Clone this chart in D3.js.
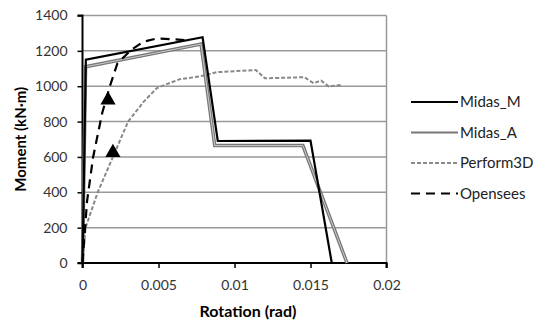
<!DOCTYPE html>
<html>
<head>
<meta charset="utf-8">
<script src="https://cdn.jsdelivr.net/npm/d3@7"></script>
<style>
  body { margin: 0; background: #fff; }
  text { font-family: Lato, "Open Sans", sans-serif; }
</style>
</head>
<body>
<div id="chart"></div>
<script>
// values
const xTicks = [0, 0.005, 0.01, 0.015, 0.02];
const xTickLabels = ["0", "0.005", "0.01", "0.015", "0.02"];
const yTicks = [0, 200, 400, 600, 800, 1000, 1200, 1400];

const midasM = [[0, 0], [0.00022, 1150], [0.0079, 1277], [0.0089, 690], [0.0150, 692], [0.0164, 0]];
const midasA = [[0, 0], [0.0002, 1110], [0.0078, 1238], [0.0087, 664], [0.0145, 664], [0.0174, 0]];
const perform3D = [[0, 0], [0.0002, 200], [0.0010, 400], [0.0020, 600], [0.0030, 800], [0.0040, 910],
  [0.0049, 990], [0.0064, 1040], [0.0077, 1055], [0.0088, 1079], [0.0114, 1092],
  [0.0120, 1045], [0.0146, 1051], [0.0152, 1017], [0.0157, 1032], [0.0162, 998], [0.0170, 1007]];
const opensees = [[0, 0], [0.0003, 350], [0.0007, 600], [0.0013, 850], [0.0018, 1000], [0.0023, 1130],
  [0.0032, 1205], [0.0040, 1252], [0.0049, 1270], [0.0063, 1264], [0.0070, 1258]];
const markers = [[0.00168, 922], [0.0020, 625]];

const legendItems = [
  { name: "Midas_M", key: "m" },
  { name: "Midas_A", key: "a" },
  { name: "Perform3D", key: "p" },
  { name: "Opensees", key: "o" },
];

const W = 541, H = 323;
const margin = { left: 82.5, top: 15.5, right: 154.5, bottom: 60 };

const svg = d3.select("#chart").append("svg").attr("width", W).attr("height", H);

const x = d3.scaleLinear().domain([0, 0.02]).range([margin.left, W - margin.right]);
const y = d3.scaleLinear().domain([0, 1400]).range([H - margin.bottom, margin.top]);

// grid
svg.append("g")
  .selectAll("line")
  .data(yTicks.filter(d => d > 0))
  .join("line")
  .attr("x1", x(0)).attr("x2", x(0.02))
  .attr("y1", d => y(d)).attr("y2", d => y(d))
  .attr("stroke", "#999").attr("stroke-width", 1.5);

svg.append("line")
  .attr("x1", x(0.02)).attr("x2", x(0.02))
  .attr("y1", y(0)).attr("y2", y(1400))
  .attr("stroke", "#999").attr("stroke-width", 1.5);

// axes
const yAxis = svg.append("g")
  .attr("transform", `translate(${x(0)},0)`)
  .call(d3.axisLeft(y).tickValues(yTicks).tickSize(5).tickPadding(10).tickFormat(d3.format("d")));
const xAxis = svg.append("g")
  .attr("transform", `translate(0,${y(0)})`)
  .call(d3.axisBottom(x).tickValues(xTicks).tickSize(5).tickPadding(12).tickFormat((d, i) => xTickLabels[i]));

[yAxis, xAxis].forEach(g => {
  g.select(".domain").attr("stroke", "#000").attr("stroke-width", 2);
  g.selectAll(".tick line").attr("stroke", "#000").attr("stroke-width", 1.5);
  g.selectAll(".tick text").attr("fill", "#333").style("font-size", "14px")
    .style("font-family", "Lato, 'Open Sans', sans-serif");
});
xAxis.select(".domain").attr("d", `M${x(0)},5V0H${x(0.02)}V5`);
yAxis.select(".domain").attr("d", `M-5,${y(0)}H0V${y(1400)}H-5`);

const line = d3.line().x(d => x(d[0])).y(d => y(d[1]));

const plot = svg.append("g");

plot.append("path").datum(perform3D).attr("d", line)
  .attr("fill", "none").attr("stroke", "#888").attr("stroke-width", 2)
  .attr("stroke-dasharray", "4,2");

plot.append("path").datum(midasA).attr("d", line)
  .attr("fill", "none").attr("stroke", "#777").attr("stroke-width", 3.5);
plot.append("path").datum(midasA).attr("d", line)
  .attr("fill", "none").attr("stroke", "#ccc").attr("stroke-width", 1);

plot.append("path").datum(midasM).attr("d", line)
  .attr("fill", "none").attr("stroke", "#000").attr("stroke-width", 2.2);

plot.append("path").datum(opensees).attr("d", line)
  .attr("fill", "none").attr("stroke", "#000").attr("stroke-width", 2.2)
  .attr("stroke-dasharray", "9,6");

plot.selectAll("path.marker")
  .data(markers)
  .join("path")
  .attr("class", "marker")
  .attr("d", d3.symbol(d3.symbolTriangle, 100))
  .attr("transform", d => `translate(${x(d[0])},${y(d[1])})`)
  .attr("fill", "#000");

// axis titles
svg.append("text")
  .attr("x", 248).attr("y", 317)
  .attr("text-anchor", "middle")
  .style("font-size", "16px").style("font-weight", "bold")
  .text("Rotation (rad)");

svg.append("text")
  .attr("transform", `translate(26,${(y(0) + y(1400)) / 2}) rotate(-90)`)
  .attr("text-anchor", "middle")
  .style("font-size", "15px").style("font-weight", "bold")
  .text("Moment (kN·m)");

// legend
const legend = svg.append("g").attr("transform", "translate(411,102)");
const row = legend.selectAll("g").data(legendItems).join("g")
  .attr("transform", (d, i) => `translate(0,${i * 30.5})`);

row.each(function (d) {
  const g = d3.select(this);
  if (d.key === "m") {
    g.append("line").attr("x1", 0).attr("x2", 47).attr("stroke", "#000").attr("stroke-width", 2.2);
  } else if (d.key === "a") {
    g.append("line").attr("x1", 0).attr("x2", 47).attr("stroke", "#777").attr("stroke-width", 2);
  } else if (d.key === "p") {
    g.append("line").attr("x1", 0).attr("x2", 47).attr("stroke", "#666").attr("stroke-width", 1.5)
      .attr("stroke-dasharray", "4,2");
  } else {
    g.append("line").attr("x1", 0).attr("x2", 47).attr("stroke", "#000").attr("stroke-width", 2.2)
      .attr("stroke-dasharray", "9,6");
  }
});

row.append("text")
  .attr("x", 49).attr("dy", "0.35em")
  .attr("fill", "#222")
  .style("font-size", "15px")
  .text(d => d.name);
</script>
</body>
</html>
